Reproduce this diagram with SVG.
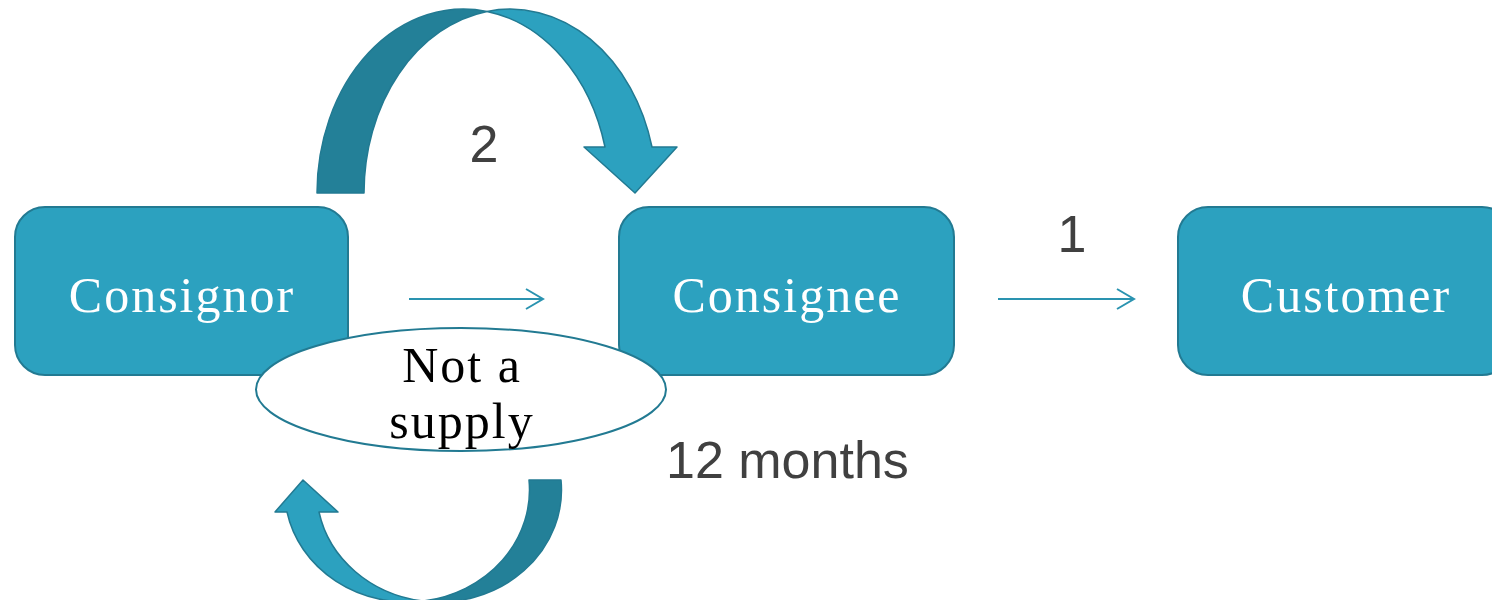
<svg xmlns="http://www.w3.org/2000/svg" width="1492" height="600" viewBox="0 0 1492 600">
  <style>
    .box { fill: #2ca1bf; stroke: #227a92; stroke-width: 2; }
    .boxText { font-family: "Liberation Serif", "DejaVu Serif", serif; font-size: 50px; fill: #ffffff; letter-spacing: 2px; text-anchor: middle; }
    .bubble { fill: #ffffff; stroke: #227a92; stroke-width: 2; }
    .bubbleText { font-family: "Liberation Serif", "DejaVu Serif", serif; font-size: 50px; fill: #000000; letter-spacing: 2px; text-anchor: middle; }
    .label { font-family: "Liberation Sans", Arial, sans-serif; font-size: 52px; fill: #404040; }
    .flow { fill: none; stroke: #2a93b0; stroke-width: 2; }
    .bandBack { fill: #238098; stroke: #227a92; stroke-width: 1.5; stroke-linejoin: round; }
    .bandFront { fill: #2ca1bf; stroke: #227a92; stroke-width: 1.5; stroke-linejoin: round; }
  </style>
  <defs>
    <marker id="chevron" viewBox="0 0 20 22" refX="18" refY="11" markerWidth="20" markerHeight="22" markerUnits="userSpaceOnUse" orient="auto">
      <path d="M1,1 L18,11 L1,21" fill="none" stroke="#2a93b0" stroke-width="2"/>
    </marker>
  </defs>

  <!-- nodes -->
  <g id="consignor">
    <rect class="box" x="15" y="207" width="333" height="168" rx="30" ry="30"/>
    <text class="boxText" x="182" y="312">Consignor</text>
  </g>
  <g id="consignee">
    <rect class="box" x="619" y="207" width="335" height="168" rx="30" ry="30"/>
    <text class="boxText" x="787" y="312">Consignee</text>
  </g>
  <g id="customer">
    <rect class="box" x="1178" y="207" width="334" height="168" rx="30" ry="30"/>
    <text class="boxText" x="1346" y="312">Customer</text>
  </g>

  <!-- connectors -->
  <g id="connectors">
    <!-- straight flows -->
    <line class="flow" x1="409" y1="299" x2="543" y2="299" marker-end="url(#chevron)"/>
    <line class="flow" x1="998" y1="299" x2="1134" y2="299" marker-end="url(#chevron)"/>

    <!-- curved arrow over the top, consignor to consignee -->
    <path class="bandBack" d="M317,193 A146.5,184 0 0 1 487,11.4 A146.5,184 0 0 0 364,193 Z"/>
    <path class="bandFront" d="M487,11.4 A146.5,184 0 0 1 652,147 L677,147 L635,193 L584,147 L605,147 A146.5,184 0 0 0 487,11.4 Z"/>

    <!-- curved return arrow underneath -->
    <path class="bandBack" d="M561,480 A122.5,112 0 0 1 423,601 A122.5,112 0 0 0 529,480 Z"/>
    <path class="bandFront" d="M287,512 L275,512 L303,480 L338,512 L319,512 A122.5,112 0 0 0 423,601 A122.5,112 0 0 1 287,512 Z"/>
  </g>

  <!-- callout -->
  <g id="not-a-supply">
    <ellipse class="bubble" cx="461" cy="389.5" rx="205" ry="61.5"/>
    <text class="bubbleText" x="462" y="382">Not a</text>
    <text class="bubbleText" x="462" y="438">supply</text>
  </g>

  <!-- labels -->
  <text class="label" x="484" y="162" text-anchor="middle">2</text>
  <text class="label" x="1072" y="252" text-anchor="middle">1</text>
  <text class="label" x="666" y="478">12 months</text>
</svg>
